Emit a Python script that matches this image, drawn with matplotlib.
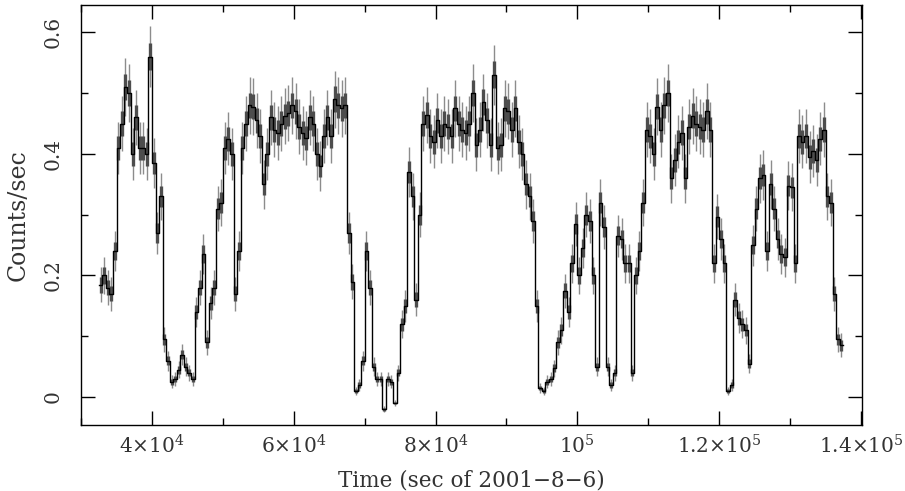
import numpy as np
import matplotlib
matplotlib.use("Agg")
import matplotlib.pyplot as plt
from matplotlib.ticker import FixedLocator, MultipleLocator

plt.rcParams['font.family'] = ['DejaVu Serif']
plt.rcParams['mathtext.fontset'] = 'dejavuserif'

# light curve, 500 s bins starting at t = 32500 s
t_start = 32500
bin_width = 500
rate = [
    0.185, 0.20, 0.18, 0.17, 0.24, 0.41, 0.45, 0.51, 0.50, 0.40,
    0.46, 0.41, 0.41, 0.40, 0.56, 0.385, 0.27, 0.33, 0.095, 0.06,
    0.025, 0.03, 0.045, 0.07, 0.05, 0.04,
    0.03, 0.14, 0.18, 0.235, 0.09, 0.155, 0.18, 0.31, 0.32, 0.41,
    0.425, 0.40, 0.17, 0.24, 0.41, 0.45, 0.48, 0.478, 0.455, 0.43,
    0.35, 0.40, 0.46, 0.44, 0.435, 0.45, 0.462, 0.467, 0.48, 0.47,
    0.445,
    0.434, 0.426, 0.46, 0.45, 0.40, 0.38, 0.43, 0.46, 0.43, 0.49,
    0.48, 0.475, 0.48, 0.27, 0.19, 0.01, 0.02, 0.06, 0.24, 0.18,
    0.05, 0.03, 0.03, -0.02, 0.03, 0.025, -0.01, 0.04, 0.12, 0.15,
    0.37, 0.33, 0.16, 0.30, 0.45, 0.464, 0.43, 0.42, 0.455, 0.43,
    0.45, 0.445, 0.43, 0.475, 0.45, 0.44, 0.435, 0.45, 0.50, 0.415,
    0.44, 0.485, 0.455, 0.415, 0.53, 0.41, 0.415, 0.475, 0.47, 0.44,
    0.475,
    0.42, 0.40, 0.35, 0.33, 0.29, 0.15, 0.015, 0.01, 0.025, 0.03,
    0.047, 0.09, 0.11, 0.175, 0.14, 0.22, 0.285, 0.20, 0.245, 0.30,
    0.29, 0.20, 0.05, 0.32, 0.28, 0.05, 0.02, 0.04, 0.265, 0.26,
    0.22, 0.22, 0.04, 0.20, 0.24, 0.32, 0.44, 0.43, 0.40, 0.478,
    0.44, 0.48, 0.50, 0.36, 0.39, 0.42, 0.435, 0.36, 0.445, 0.463,
    0.45, 0.445, 0.44, 0.47, 0.44, 0.22, 0.297, 0.26, 0.22, 0.01,
    0.02,
    0.16, 0.13, 0.12, 0.11, 0.055, 0.25, 0.31, 0.36, 0.365, 0.24,
    0.35, 0.31, 0.26, 0.235, 0.23, 0.348, 0.345, 0.22, 0.43, 0.42,
    0.43, 0.395, 0.405, 0.39, 0.425, 0.44, 0.33, 0.32, 0.17, 0.095,
    0.085,
]
exposure = 220.0  # effective seconds per bin for the Poisson errors

xtick_vals = [4e4, 6e4, 8e4, 1e5, 1.2e5, 1.4e5]
xtick_labels = ['4×10$^{4}$', '6×10$^{4}$', '8×10$^{4}$', '10$^{5}$',
                '1.2×10$^{5}$', '1.4×10$^{5}$']
ytick_vals = [0, 0.2, 0.4, 0.6]
ytick_labels = ['0', '0.2', '0.4', '0.6']

rate = np.array(rate)
edges = t_start + bin_width * np.arange(len(rate) + 1)
centers = 0.5 * (edges[:-1] + edges[1:])
err = np.sqrt(np.clip(rate, 0.005, None) / exposure)

txt = '0.2'

fig = plt.figure(figsize=(9.05, 4.91), dpi=100)
ax = fig.add_axes([0.0895, 0.1344, 0.863, 0.8554])

ax.errorbar(centers, rate, yerr=err, fmt='none', ecolor='0.55', elinewidth=1.0, zorder=2)
ax.errorbar(centers, rate, yerr=err * 0.45, fmt='none', ecolor='0.3', elinewidth=2.4, zorder=3)
ax.step(edges, np.append(rate, rate[-1]), where='post', color='black', lw=1.0, zorder=4)

ax.set_xlim(29980, 140150)
ax.set_ylim(-0.046, 0.645)

ax.xaxis.set_major_locator(FixedLocator(xtick_vals))
ax.set_xticklabels(xtick_labels)
ax.xaxis.set_minor_locator(MultipleLocator(1e4))
ax.yaxis.set_major_locator(FixedLocator(ytick_vals))
ax.set_yticklabels(ytick_labels)
ax.yaxis.set_minor_locator(MultipleLocator(0.1))

ax.tick_params(which='both', direction='in', top=True, right=True, width=1,
               labelsize=14.5, labelcolor=txt)
ax.tick_params(which='major', length=10)
ax.tick_params(which='minor', length=5)
ax.tick_params(axis='x', pad=7)
ax.tick_params(axis='y', pad=13)
for lab in ax.get_yticklabels():
    lab.set_rotation(90)
    lab.set_va('center')

for s in ax.spines.values():
    s.set_linewidth(1.0)

ax.set_xlabel('Time (sec of 2001\u22128\u22126)', fontsize=15.5, labelpad=8, color=txt)
ax.set_ylabel('Counts/sec', fontsize=17, labelpad=10, color=txt)

fig.savefig('out.png', dpi=100)
